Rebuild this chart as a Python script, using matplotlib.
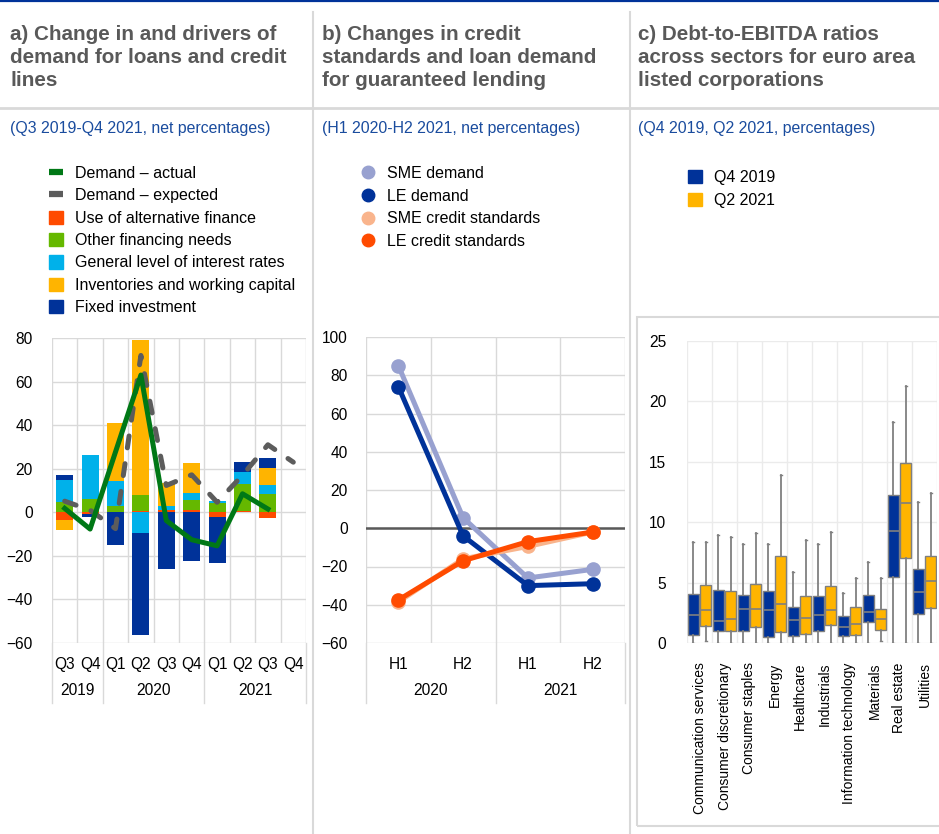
import numpy as np
import matplotlib.pyplot as plt
from matplotlib.lines import Line2D
from matplotlib.patches import Patch, Rectangle

plt.rcParams['font.family'] = ['Liberation Sans', 'DejaVu Sans']

W, H = 939, 834

# panel a data (net percentages)
quarters = ['Q3', 'Q4', 'Q1', 'Q2', 'Q3', 'Q4', 'Q1', 'Q2', 'Q3', 'Q4']
years_a = ['2019', '2020', '2021']
alt_finance = [-3.4, -1.0, 0, 0.5, 1.0, 1.0, -2.3, 0.5, -2.8, 0]
other_needs = [4.6, 6.2, 2.8, 7.5, 0, 4.7, 4.2, 12.6, 8.5, 0]
interest_rates = [10.3, 20.1, 11.5, -9.5, 2.1, 3.1, 0.9, 5.4, 3.8, 0]
inventories = [-4.8, 0, 26.6, 71.2, 10.3, 13.8, 0, 0, 8.0, 0]
fixed_investment = [2.0, -1.3, -15.1, -46.7, -26.2, -22.3, -21.2, 4.4, 4.6, 0]
demand_actual = [1.8, -7.7, 27.7, 63.0, -3.8, -12.6, -15.4, 8.5, 1.5, np.nan]
demand_expected = [5.1, 1.0, -7.5, 72.0, 12.3, 17.2, 4.6, 17.0, 31.0, 23.0]

# panel b data
halves = ['H1', 'H2', 'H1', 'H2']
years_b = ['2020', '2021']
sme_demand = [85, 5.5, -26, -21.5]
le_demand = [74, -4, -30, -29]
sme_standards = [-38.5, -16, -9.5, -2]
le_standards = [-37.5, -17, -7, -2]

# panel c data (box plot stats)
sectors = ['Communication services', 'Consumer discretionary', 'Consumer staples',
           'Energy', 'Healthcare', 'Industrials', 'Information technology',
           'Materials', 'Real estate', 'Utilities']
q4_low = [0, 0, 0, 0, 0, 0, 0, 0, 0, 0]
q4_q1 = [0.66, 1.0, 1.0, 0.5, 0.55, 1.0, 0.6, 1.7, 5.44, 2.4]
q4_med = [2.35, 1.85, 2.8, 2.76, 1.93, 2.3, 1.3, 2.6, 9.3, 4.25]
q4_q3 = [4.06, 4.36, 4.0, 4.3, 3.0, 3.9, 2.2, 3.95, 12.24, 6.1]
q4_high = [8.37, 8.9, 8.2, 8.2, 5.9, 8.2, 4.1, 6.74, 18.3, 11.7]
q2_low = [0.2, 0, 0, 0, 0, 0, 0, 0.15, 0, 0]
q2_q1 = [1.4, 1.0, 1.3, 0.94, 0.77, 1.5, 0.7, 1.1, 7.04, 2.9]
q2_med = [2.76, 2.0, 2.8, 3.2, 2.04, 2.7, 1.57, 2.0, 11.6, 5.14]
q2_q3 = [4.8, 4.3, 4.9, 7.2, 3.87, 4.7, 2.96, 2.85, 14.9, 7.2]
q2_high = [8.37, 8.8, 9.1, 13.9, 8.5, 9.2, 5.36, 5.36, 21.3, 12.4]

NAVY = '#003299'
YELLOW = '#FFB400'
GRID = '#D9D9D9'
TITLE = '#595959'
SUB = '#1A4C9E'


def fy(py):
    return 1 - py / H


def axes_px(left, top, right, bottom):
    return fig.add_axes([left / W, fy(bottom), (right - left) / W, (bottom - top) / H])


fig = plt.figure(figsize=(W / 100, H / 100), dpi=100)

# frame lines
fig.add_artist(Line2D([0, 1], [fy(1), fy(1)], color=NAVY, lw=1.6))
for xs in (313, 630):
    fig.add_artist(Line2D([xs / W, xs / W], [fy(12), 0], color=GRID, lw=1.5))
fig.add_artist(Line2D([0, 1], [fy(108), fy(108)], color=GRID, lw=2))

titles = ['a) Change in and drivers of\ndemand for loans and credit\nlines',
          'b) Changes in credit\nstandards and loan demand\nfor guaranteed lending',
          'c) Debt-to-EBITDA ratios\nacross sectors for euro area\nlisted corporations']
subs = ['(Q3 2019-Q4 2021, net percentages)',
        '(H1 2020-H2 2021, net percentages)',
        '(Q4 2019, Q2 2021, percentages)']
for x0, t, s in zip((10, 322, 638), titles, subs):
    fig.text(x0 / W, fy(25), t, fontsize=14.9, fontweight='bold', color=TITLE,
             va='top', ha='left', linespacing=1.26)
    fig.text(x0 / W, fy(129), s, fontsize=11.4, color=SUB, va='center', ha='left')

# ---------------- panel a ----------------
ax = axes_px(52, 338, 306, 643)
x = np.arange(len(quarters))
series = [(alt_finance, '#FF4B00', 'Use of alternative finance'),
          (other_needs, '#65B800', 'Other financing needs'),
          (interest_rates, '#00B1EA', 'General level of interest rates'),
          (inventories, YELLOW, 'Inventories and working capital'),
          (fixed_investment, NAVY, 'Fixed investment')]
pos_base = np.zeros(len(x))
neg_base = np.zeros(len(x))
for vals, col, lab in series:
    v = np.array(vals, dtype=float)
    base = np.where(v >= 0, pos_base, neg_base)
    ax.bar(x, v, bottom=base, width=0.67, color=col, zorder=2)
    pos_base += np.clip(v, 0, None)
    neg_base += np.clip(v, None, 0)
ax.plot(x, demand_expected, color='#5C5C5C', lw=3.6, ls=(0, (2.4, 3.2)),
        dash_capstyle='round', zorder=3)
ax.plot(x, demand_actual, color='#007816', lw=3.6, zorder=4)
ax.set_xlim(-0.5, 9.5)
ax.set_ylim(-60, 80)
ax.set_yticks(np.arange(-60, 81, 20))
ax.set_xticks(x)
ax.set_xticklabels(quarters)
ax.set_xticks(np.arange(-0.5, 10, 1), minor=True)
ax.grid(which='minor', axis='x', color=GRID, lw=1)
ax.grid(which='major', axis='y', color=GRID, lw=1)
ax.set_axisbelow(True)
ax.tick_params(which='both', length=0)
ax.tick_params(axis='y', pad=14, labelsize=11.2)
ax.tick_params(axis='x', pad=10, labelsize=11.2)
for sp in ax.spines.values():
    sp.set_visible(False)
for xc, yr in zip((0.5, 3.5, 7.5), years_a):
    ax.text(xc, -0.155, yr, transform=ax.get_xaxis_transform(), ha='center',
            va='center', fontsize=11.2)
for xs in (-0.5, 1.5, 5.5, 9.5):
    ax.add_artist(Line2D([xs, xs], [0, -0.197], transform=ax.get_xaxis_transform(),
                         color=GRID, lw=1, clip_on=False))

handles_a = [Line2D([], [], color='#007816', lw=4.5, solid_capstyle='butt'),
             Line2D([], [], color='#5C5C5C', lw=4.5, solid_capstyle='butt')]
labels_a = ['Demand \u2013 actual', 'Demand \u2013 expected']
for vals, col, lab in series:
    handles_a.append(Patch(color=col))
    labels_a.append(lab)
fig.legend(handles_a, labels_a, loc='upper left', bbox_to_anchor=(49 / W, fy(166)),
           frameon=False, fontsize=11.5, handlelength=0.9, handleheight=0.9,
           handletextpad=0.75, labelspacing=0.45, borderpad=0, borderaxespad=0)

# ---------------- panel b ----------------
bx = axes_px(366, 337, 625, 643)
xb = np.arange(len(halves))
lines_b = [(sme_demand, '#98A1D0', 'SME demand'),
           (le_demand, NAVY, 'LE demand'),
           (sme_standards, '#F9B48C', 'SME credit standards'),
           (le_standards, '#FF4B00', 'LE credit standards')]
for vals, col, lab in lines_b:
    bx.plot(xb, vals, color=col, lw=3.6, marker='o', ms=9.5, zorder=3)
bx.axhline(0, color='#595959', lw=1.8, zorder=2)
bx.set_xlim(-0.5, 3.5)
bx.set_ylim(-60, 100)
bx.set_yticks(np.arange(-60, 101, 20))
bx.set_xticks(xb)
bx.set_xticklabels(halves)
bx.set_xticks(np.arange(-0.5, 4, 1), minor=True)
bx.grid(which='minor', axis='x', color=GRID, lw=1)
bx.grid(which='major', axis='y', color=GRID, lw=1)
bx.set_axisbelow(True)
bx.tick_params(which='both', length=0)
bx.tick_params(axis='y', pad=13, labelsize=11.2)
bx.tick_params(axis='x', pad=10, labelsize=11.2)
for sp in bx.spines.values():
    sp.set_visible(False)
for xc, yr in zip((0.5, 2.5), years_b):
    bx.text(xc, -0.155, yr, transform=bx.get_xaxis_transform(), ha='center',
            va='center', fontsize=11.2)
for xs in (-0.5, 1.5, 3.5):
    bx.add_artist(Line2D([xs, xs], [0, -0.197], transform=bx.get_xaxis_transform(),
                         color=GRID, lw=1, clip_on=False))
handles_b = [Line2D([], [], color=c, marker='o', ls='none', ms=9) for _, c, _ in lines_b]
fig.legend(handles_b, [l for _, _, l in lines_b], loc='upper left',
           bbox_to_anchor=(360 / W, fy(166)), frameon=False, fontsize=11.5,
           handlelength=1.0, handletextpad=0.7, labelspacing=0.48,
           borderpad=0, borderaxespad=0)

# ---------------- panel c ----------------
fig.add_artist(Rectangle((637 / W, fy(826)), 320 / W, (826 - 317) / H,
                         transform=fig.transFigure, fill=False, ec=GRID, lw=1.5))
cx = axes_px(687, 341, 937, 643)
stats = []
positions = []
colors = []
for i in range(len(sectors)):
    stats.append(dict(whislo=q4_low[i], q1=q4_q1[i], med=q4_med[i], q3=q4_q3[i],
                      whishi=q4_high[i], fliers=[]))
    positions.append(2 * i)
    colors.append(NAVY)
    stats.append(dict(whislo=q2_low[i], q1=q2_q1[i], med=q2_med[i], q3=q2_q3[i],
                      whishi=q2_high[i], fliers=[]))
    positions.append(2 * i + 1)
    colors.append(YELLOW)
bp = cx.bxp(stats, positions=positions, widths=0.85, patch_artist=True,
            showfliers=False, capwidths=0.15,
            boxprops=dict(edgecolor='#7F7F7F', lw=1),
            medianprops=dict(color='#7F7F7F', lw=1.2),
            whiskerprops=dict(color='#808080', lw=1.3),
            capprops=dict(color='#808080', lw=1))
for patch, col in zip(bp['boxes'], colors):
    patch.set_facecolor(col)
cx.set_xlim(-0.5, 19.5)
cx.set_ylim(0, 25)
cx.set_yticks(np.arange(0, 26, 5))
cx.set_xticks(np.arange(len(sectors)) * 2 + 0.5)
cx.set_xticklabels(sectors, rotation=90, fontsize=10)
cx.set_xticks(np.arange(-0.5, 20, 1), minor=True)
cx.grid(which='minor', axis='x', color='#EBEBEB', lw=1)
cx.grid(which='major', axis='y', color='#EBEBEB', lw=1)
cx.set_axisbelow(True)
cx.tick_params(which='both', length=0)
cx.tick_params(axis='y', pad=15, labelsize=11.2)
cx.tick_params(axis='x', pad=14)
for sp in cx.spines.values():
    sp.set_visible(False)
fig.legend([Patch(color=NAVY), Patch(color=YELLOW)], ['Q4 2019', 'Q2 2021'],
           loc='upper left', bbox_to_anchor=(688 / W, fy(170)), frameon=False,
           fontsize=11.5, handlelength=0.85, handleheight=0.85, handletextpad=0.75,
           labelspacing=0.48, borderpad=0, borderaxespad=0)

fig.savefig('out.png', dpi=100)
